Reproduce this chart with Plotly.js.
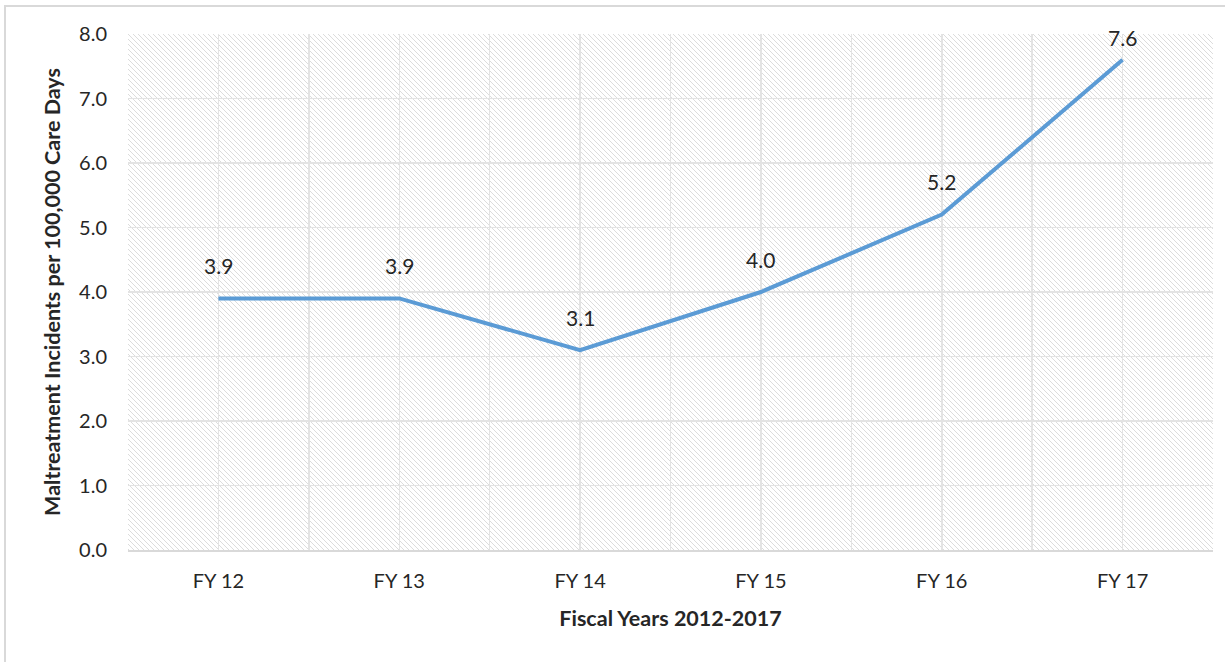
<!DOCTYPE html>
<html>
<head>
<meta charset="utf-8">
<script src="https://cdn.plot.ly/plotly-3.0.1.min.js"></script>
<style>
  html, body { margin: 0; padding: 0; background: #fff; }
  #chart { position: absolute; left: 0; top: 0; width: 1225px; height: 662px; }
  #frame { position: absolute; left: 4px; top: 5px; width: 1240px; height: 680px;
           border-left: 2px solid #d9d9d9; border-top: 2px solid #d9d9d9; pointer-events: none; }
</style>
</head>
<body>
<div id="chart"></div>
<div id="frame"></div>
<script>
const categories = ["FY 12", "FY 13", "FY 14", "FY 15", "FY 16", "FY 17"];
const rates = [3.9, 3.9, 3.1, 4.0, 5.2, 7.6];
const yTicks = [0, 1, 2, 3, 4, 5, 6, 7, 8];

const idx = categories.map((_, i) => i);
const tickvals = [];
const ticktext = [];
for (let i = 0; i < categories.length; i++) {
  tickvals.push(i - 0.5, i);
  ticktext.push("", categories[i]);
}
tickvals.push(categories.length - 0.5);
ticktext.push("");

const marginT = 34, marginB = 112, H = 662;
const plotW = 1085, plotH = H - marginT - marginB;
const yMax = yTicks[yTicks.length - 1];
const pxPerUnit = plotH / yMax;

const svg = `<svg xmlns="http://www.w3.org/2000/svg" width="${plotW}" height="${plotH}">` +
  `<defs><pattern id="p" patternUnits="userSpaceOnUse" width="5" height="5">` +
  `<path d="M-1,-1 L6,6 M-1,4 L1,6 M4,-1 L6,1" stroke="#d8d8d8" stroke-width="0.9"/></pattern></defs>` +
  `<rect width="100%" height="100%" fill="url(#p)"/></svg>`;
const src = "data:image/svg+xml;base64," + btoa(svg);

const font = "Lato, 'Open Sans', sans-serif";
const txt = "#262626";

const trace = {
  x: idx,
  y: rates,
  type: "scatter",
  mode: "lines",
  line: { color: "#5b9bd5", width: 4 },
  hoverinfo: "x+y"
};

const annotations = rates.map((v, i) => ({
  x: i, y: v, xref: "x", yref: "y",
  text: v.toFixed(1), showarrow: false,
  yshift: Math.min(33, (yMax - v) * pxPerUnit - 4),
  font: { family: font, size: 21, color: txt }
}));

const layout = {
  width: 1225, height: H,
  margin: { l: 128, r: 12, t: marginT, b: marginB },
  paper_bgcolor: "rgba(0,0,0,0)",
  plot_bgcolor: "#ffffff",
  showlegend: false,
  font: { family: font, size: 20, color: txt },
  images: [{
    source: src, xref: "paper", yref: "paper", x: 0, y: 1,
    sizex: 1, sizey: 1, sizing: "stretch", layer: "below", xanchor: "left", yanchor: "top"
  }],
  xaxis: {
    range: [-0.5, categories.length - 0.5],
    tickmode: "array", tickvals: tickvals, ticktext: ticktext,
    showgrid: true, gridcolor: "#e3e3e3", gridwidth: 1.5,
    zeroline: false, showline: true, linecolor: "#d9d9d9", linewidth: 2,
    ticks: "", ticklabelstandoff: 12,
    tickfont: { family: font, size: 20, color: txt },
    title: { text: "<b>Fiscal Years 2012-2017</b>", standoff: 20,
             font: { family: font, size: 21.5, color: txt } },
    fixedrange: true
  },
  yaxis: {
    range: [0, yMax],
    tickmode: "array", tickvals: yTicks, ticktext: yTicks.map(v => v.toFixed(1)),
    showgrid: true, gridcolor: "#e3e3e3", gridwidth: 1.5,
    zeroline: false, showline: false,
    ticks: "", ticklabelstandoff: 20,
    tickfont: { family: font, size: 20, color: txt },
    title: { text: "<b>Maltreatment Incidents per 100,000 Care Days</b>", standoff: 12,
             font: { family: font, size: 21.5, color: txt } },
    fixedrange: true
  },
  annotations: annotations
};

Plotly.newPlot("chart", [trace], layout, { displayModeBar: false, staticPlot: true });
</script>
</body>
</html>
